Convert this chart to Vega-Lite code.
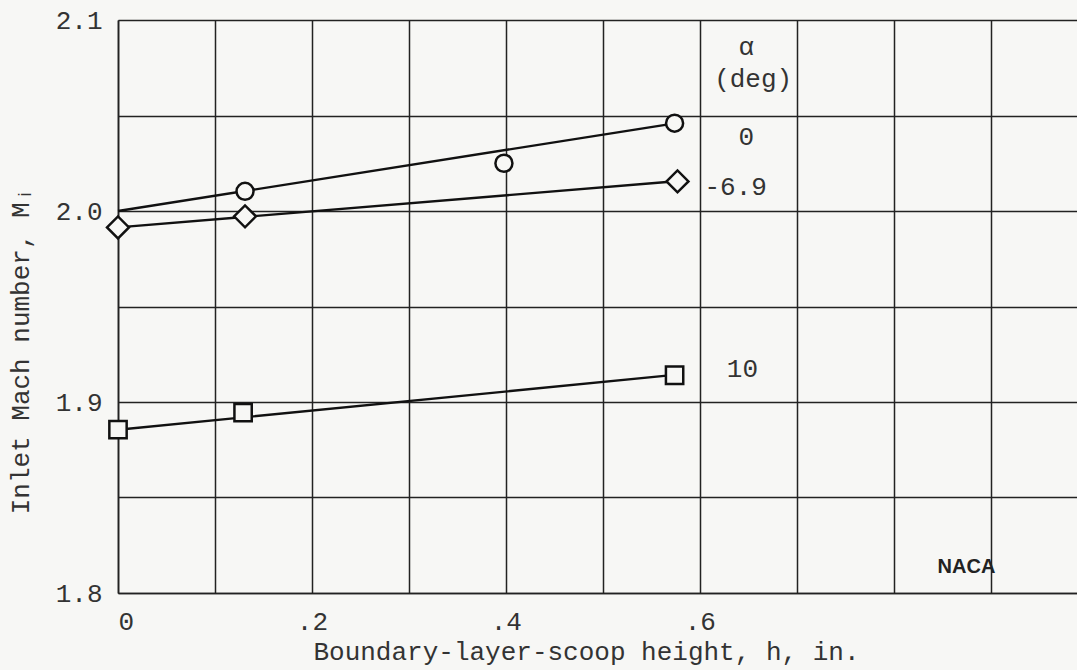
{
  "$schema": "https://vega.github.io/schema/vega-lite/v6.json",
  "width": 959,
  "height": 573,
  "autosize": {"type": "none"},
  "padding": {"left": 118, "top": 20, "right": 0, "bottom": 77},
  "background": "#f7f7f5",
  "config": {
    "view": {"stroke": null},
    "font": "Liberation Mono",
    "axis": {
      "labelFont": "Liberation Mono",
      "titleFont": "Liberation Mono",
      "labelFontSize": 26,
      "titleFontSize": 26,
      "titleFontWeight": "normal",
      "labelColor": "#333",
      "titleColor": "#333",
      "gridColor": "#222",
      "gridWidth": 1.5,
      "gridOpacity": 1,
      "domainColor": "#222",
      "domainWidth": 1.6,
      "tickSize": 0
    }
  },
  "datasets": {
    "points": [
      {"series": "0", "h": 0.131, "M": 2.0103},
      {"series": "0", "h": 0.398, "M": 2.025},
      {"series": "0", "h": 0.574, "M": 2.046},
      {"series": "-6.9", "h": 0.0, "M": 1.9914},
      {"series": "-6.9", "h": 0.131, "M": 1.9972},
      {"series": "-6.9", "h": 0.577, "M": 2.0155},
      {"series": "10", "h": 0.0, "M": 1.8855},
      {"series": "10", "h": 0.129, "M": 1.8944},
      {"series": "10", "h": 0.574, "M": 1.914}
    ],
    "fair": [
      {"series": "0", "h": 0.0, "M": 2.0},
      {"series": "0", "h": 0.566, "M": 2.0452},
      {"series": "-6.9", "h": 0.0, "M": 1.9914},
      {"series": "-6.9", "h": 0.566, "M": 2.0152},
      {"series": "10", "h": 0.0, "M": 1.8855},
      {"series": "10", "h": 0.566, "M": 1.9138}
    ],
    "labels": [
      {"text": "α", "h": 0.648, "M": 2.0858},
      {"text": "(deg)", "h": 0.655, "M": 2.069},
      {"text": "0", "h": 0.648, "M": 2.0386},
      {"text": "-6.9", "h": 0.637, "M": 2.0124},
      {"text": "10", "h": 0.644, "M": 1.9175}
    ],
    "logo": [
      {"text": "NACA", "h": 0.875, "M": 1.8137}
    ]
  },
  "layer": [
    {
      "data": {"name": "fair"},
      "mark": {"type": "line", "color": "#111", "strokeWidth": 2.4},
      "encoding": {
        "x": {
          "field": "h", "type": "quantitative",
          "scale": {"domain": [0, 0.989], "nice": false, "zero": false},
          "axis": {
            "values": [0, 0.1, 0.2, 0.3, 0.4, 0.5, 0.6, 0.7, 0.8, 0.9],
            "labelExpr": "datum.value < 0.05 ? '0' : abs(datum.value - 0.2) < 0.01 ? '.2' : abs(datum.value - 0.4) < 0.01 ? '.4' : abs(datum.value - 0.6) < 0.01 ? '.6' : ''",
            "labelPadding": 15,
            "title": "Boundary-layer-scoop height, h, in.",
            "titlePadding": 4,
            "titleX": 468
          }
        },
        "y": {
          "field": "M", "type": "quantitative",
          "scale": {"domain": [1.8, 2.1], "nice": false, "zero": false},
          "axis": {
            "values": [1.8, 1.85, 1.9, 1.95, 2.0, 2.05, 2.1],
            "labelExpr": "abs(datum.value * 10 - round(datum.value * 10)) < 0.01 ? format(datum.value, '.1f') : ''",
            "labelPadding": 16,
            "title": "Inlet Mach number, Mᵢ",
            "titlePadding": 22,
            "titleY": 330
          }
        },
        "detail": {"field": "series"}
      }
    },
    {
      "data": {"name": "points"},
      "transform": [{"filter": "datum.series === '0'"}],
      "mark": {"type": "point", "shape": "circle", "size": 290, "filled": false, "color": "#111", "strokeWidth": 2.5, "fill": "#f7f7f5", "fillOpacity": 1},
      "encoding": {
        "x": {"field": "h", "type": "quantitative"},
        "y": {"field": "M", "type": "quantitative"}
      }
    },
    {
      "data": {"name": "points"},
      "transform": [{"filter": "datum.series === '-6.9'"}],
      "mark": {"type": "point", "shape": "diamond", "size": 480, "filled": false, "color": "#111", "strokeWidth": 2.5, "fill": "#f7f7f5", "fillOpacity": 1},
      "encoding": {
        "x": {"field": "h", "type": "quantitative"},
        "y": {"field": "M", "type": "quantitative"}
      }
    },
    {
      "data": {"name": "points"},
      "transform": [{"filter": "datum.series === '10'"}],
      "mark": {"type": "point", "shape": "square", "size": 300, "filled": false, "color": "#111", "strokeWidth": 2.5, "fill": "#f7f7f5", "fillOpacity": 1},
      "encoding": {
        "x": {"field": "h", "type": "quantitative"},
        "y": {"field": "M", "type": "quantitative"}
      }
    },
    {
      "data": {"name": "labels"},
      "mark": {"type": "text", "font": "Liberation Mono", "fontSize": 26, "color": "#333", "align": "center", "baseline": "middle"},
      "encoding": {
        "x": {"field": "h", "type": "quantitative"},
        "y": {"field": "M", "type": "quantitative"},
        "text": {"field": "text"}
      }
    },
    {
      "data": {"name": "logo"},
      "mark": {"type": "text", "font": "Liberation Sans", "fontWeight": "bold", "fontSize": 20, "color": "#222", "align": "center", "baseline": "middle"},
      "encoding": {
        "x": {"field": "h", "type": "quantitative"},
        "y": {"field": "M", "type": "quantitative"},
        "text": {"field": "text"}
      }
    }
  ]
}
